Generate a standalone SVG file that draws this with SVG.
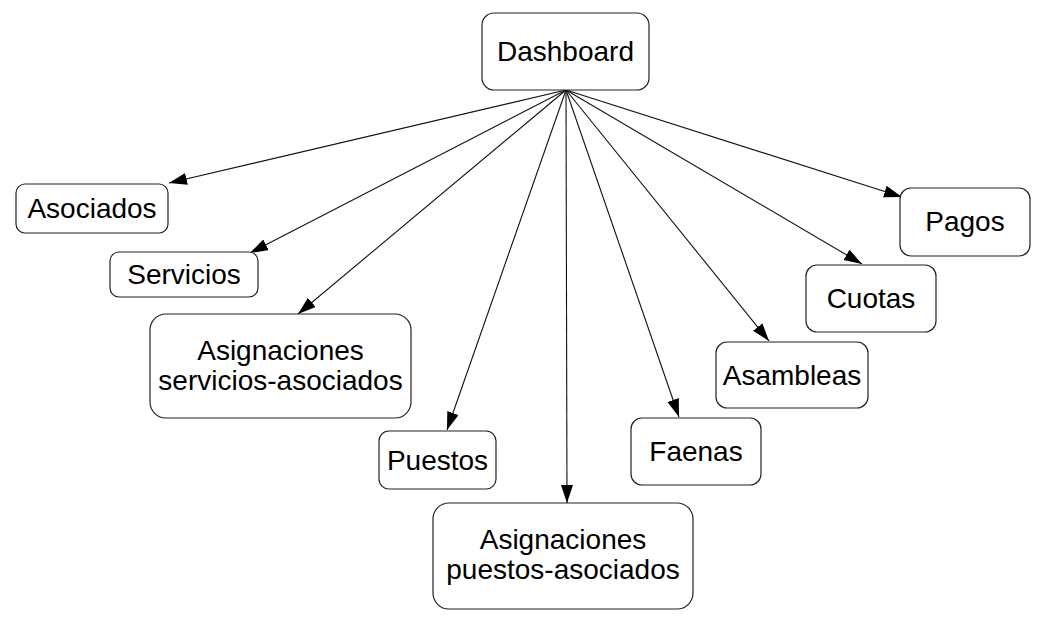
<svg xmlns="http://www.w3.org/2000/svg" width="1053" height="629" viewBox="0 0 1053 629">
<style>
.box{fill:#fff;stroke:#222;stroke-width:1.2}
.lbl{font-family:"Liberation Sans",Arial,sans-serif;font-size:28px;fill:#000;text-anchor:middle}
.edge{stroke:#111;stroke-width:1.1;fill:none;marker-end:url(#ah)}
</style>
<defs>
<marker id="ah" markerWidth="19" markerHeight="13" refX="18" refY="6" orient="auto" markerUnits="userSpaceOnUse">
<path d="M0,0 L18,6 L0,12 z" fill="#000"/>
</marker>
</defs>
<rect width="1053" height="629" fill="#fff"/>
<g id="connectors">
<line class="edge" x1="566" y1="90" x2="169" y2="183"/>
<line class="edge" x1="566" y1="90" x2="250" y2="253"/>
<line class="edge" x1="566" y1="90" x2="298" y2="314"/>
<line class="edge" x1="566" y1="90" x2="447" y2="430"/>
<line class="edge" x1="566" y1="90" x2="567" y2="503"/>
<line class="edge" x1="566" y1="90" x2="679" y2="417"/>
<line class="edge" x1="566" y1="90" x2="769" y2="341"/>
<line class="edge" x1="566" y1="90" x2="862" y2="264"/>
<line class="edge" x1="566" y1="90" x2="902" y2="197"/>
</g>
<g id="dashboard"><rect class="box" x="482" y="13" width="167" height="77" rx="12"/><text class="lbl" x="565.5" y="61">Dashboard</text></g>
<g id="asociados"><rect class="box" x="16" y="184" width="152" height="49" rx="9"/><text class="lbl" x="92" y="218">Asociados</text></g>
<g id="servicios"><rect class="box" x="110" y="252" width="148" height="45" rx="9"/><text class="lbl" x="184" y="284">Servicios</text></g>
<g id="asig-servicios"><rect class="box" x="150" y="314" width="261" height="104" rx="16"/><text class="lbl" x="280.5" y="360">Asignaciones</text><text class="lbl" x="280.5" y="390">servicios-asociados</text></g>
<g id="puestos"><rect class="box" x="379" y="431" width="117" height="58" rx="10"/><text class="lbl" x="437.5" y="470">Puestos</text></g>
<g id="asig-puestos"><rect class="box" x="433" y="503" width="260" height="106" rx="16"/><text class="lbl" x="563" y="549">Asignaciones</text><text class="lbl" x="563" y="579">puestos-asociados</text></g>
<g id="faenas"><rect class="box" x="631" y="418" width="130" height="67" rx="11"/><text class="lbl" x="696" y="461">Faenas</text></g>
<g id="asambleas"><rect class="box" x="716" y="342" width="152" height="66" rx="11"/><text class="lbl" x="792" y="385">Asambleas</text></g>
<g id="cuotas"><rect class="box" x="806" y="265" width="130" height="67" rx="11"/><text class="lbl" x="871" y="308">Cuotas</text></g>
<g id="pagos"><rect class="box" x="900" y="188" width="130" height="68" rx="11"/><text class="lbl" x="965" y="231">Pagos</text></g>
</svg>
